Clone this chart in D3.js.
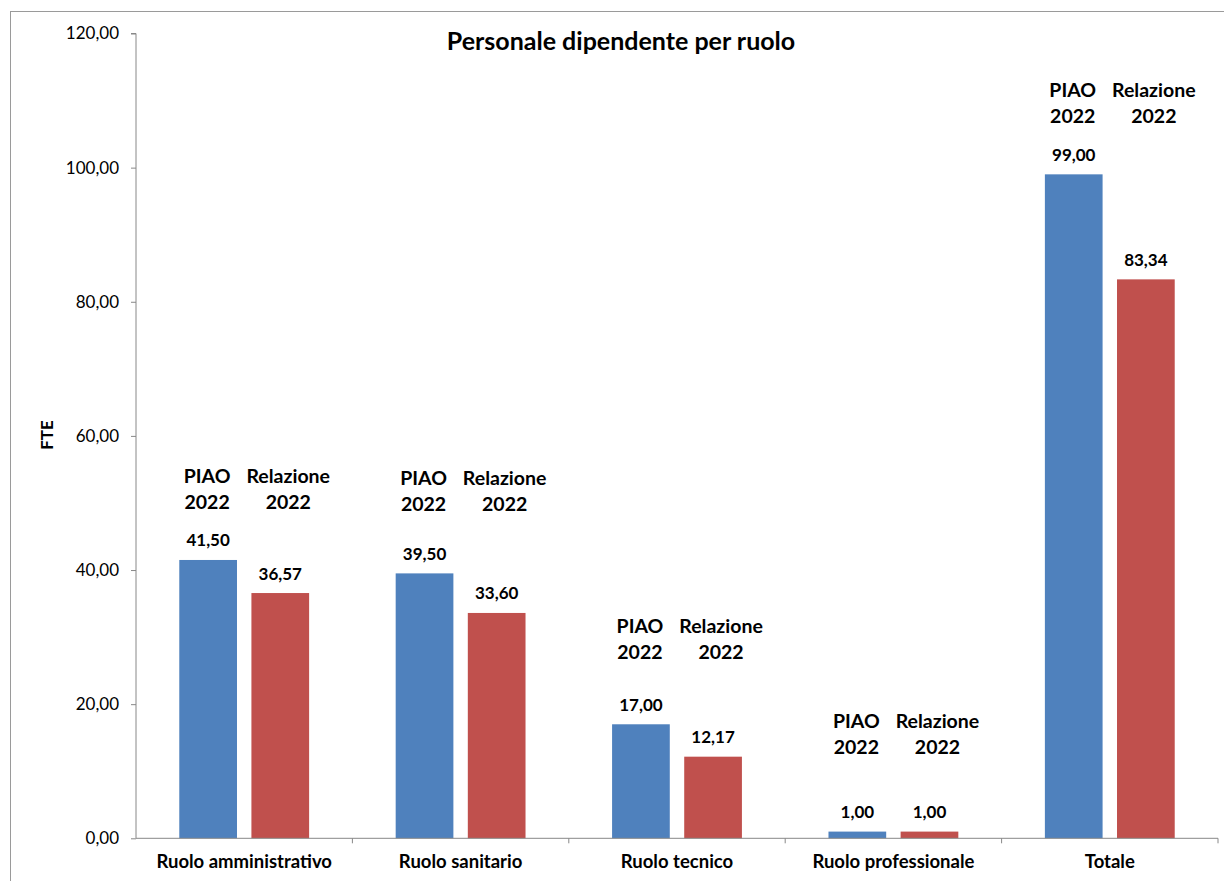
<!DOCTYPE html>
<html>
<head>
<meta charset="utf-8">
<script src="https://cdn.jsdelivr.net/npm/d3@7"></script>
<style>
  html, body { margin: 0; padding: 0; background: #fff; }
  svg { display: block; font-family: Lato, "Open Sans", sans-serif; }
</style>
</head>
<body>
<svg id="chart" width="1224" height="881"></svg>
<script>
// ---- data ----
const categories = ["Ruolo amministrativo", "Ruolo sanitario", "Ruolo tecnico", "Ruolo professionale", "Totale"];
const seriesNames = ["PIAO 2022", "Relazione 2022"];
const piao2022 = [41.50, 39.50, 17.00, 1.00, 99.00];
const relazione2022 = [36.57, 33.60, 12.17, 1.00, 83.34];
const yTicks = [0, 20, 40, 60, 80, 100, 120];
const titleText = "Personale dipendente per ruolo";
const yAxisTitle = "FTE";

// ---- layout / style ----
const colors = ["#4F81BD", "#C0504D"];
const plot = { left: 136, right: 1218, top: 33.5, bottom: 838.3 };
const nameGap = [52, 63, 66, 79, 52];   // distance of series-name labels above tallest bar
const nameShift = [-1, 8];              // horizontal nudge of series-name labels

const svg = d3.select("#chart");
const fmt = v => d3.format(".2f")(v).replace(".", ",");

// frame
svg.append("rect").attr("x", 10.5).attr("y", 11.5).attr("width", 1300).attr("height", 1000)
  .attr("fill", "none").attr("stroke", "#9a9a9a").attr("stroke-width", 1);

const y = d3.scaleLinear().domain([0, 120]).range([plot.bottom, plot.top]);
const x0 = d3.scaleBand().domain(categories).range([plot.left, plot.right]).paddingInner(0).paddingOuter(0);
const x1 = d3.scaleBand().domain(seriesNames).range([0, x0.bandwidth()]).paddingInner(0.2).paddingOuter(0.6);

const values = [piao2022, relazione2022];
const rows = categories.map((c, i) => ({ cat: c, i, vals: values.map((arr, s) => ({ s, name: seriesNames[s], v: arr[i] })) }));

// y axis
const yAxis = d3.axisLeft(y).tickValues(yTicks).tickFormat(fmt).tickSize(5).tickPadding(12);
const gy = svg.append("g").attr("transform", `translate(${plot.left},0)`).call(yAxis);
gy.select(".domain").attr("stroke", "#888").attr("d", `M-5,${plot.top}H0V${plot.bottom}`);
gy.selectAll(".tick line").attr("stroke", "#888");
gy.selectAll(".tick text").attr("font-size", 17).attr("fill", "#000").attr("font-family", "Lato");

// bars
const groups = svg.append("g").selectAll("g").data(rows).join("g")
  .attr("transform", d => `translate(${x0(d.cat)},0)`);
groups.selectAll("rect").data(d => d.vals).join("rect")
  .attr("x", d => x1(d.name))
  .attr("width", x1.bandwidth())
  .attr("y", d => y(d.v))
  .attr("height", d => y(0) - y(d.v))
  .attr("fill", d => colors[d.s]);

// value labels
groups.selectAll("text.val").data(d => d.vals).join("text").attr("class", "val")
  .attr("x", d => x1(d.name) + x1.bandwidth() / 2)
  .attr("y", d => y(d.v) - 13.5)
  .attr("text-anchor", "middle").attr("font-weight", "bold").attr("font-size", 17)
  .text(d => fmt(d.v));

// series name labels (two lines)
groups.each(function(d) {
  const g = d3.select(this);
  const topY = y(d3.max(d.vals, v => v.v));
  d.vals.forEach(v => {
    const parts = v.name.split(" ");
    const t = g.append("text")
      .attr("x", x1(v.name) + x1.bandwidth() / 2 + nameShift[v.s])
      .attr("y", topY - nameGap[d.i] - 25)
      .attr("text-anchor", "middle").attr("font-weight", "bold").attr("font-size", 19.5);
    parts.forEach((p, k) => {
      t.append("tspan").attr("x", x1(v.name) + x1.bandwidth() / 2 + nameShift[v.s])
        .attr("dy", k === 0 ? 0 : 26).text(p);
    });
  });
});

// x axis
const xAxis = d3.axisBottom(x0).tickSize(0).tickPadding(17);
const gx = svg.append("g").attr("transform", `translate(0,${plot.bottom})`).call(xAxis);
gx.select(".domain").attr("stroke", "#888").attr("d", `M${plot.left},0H${plot.right}V5`);
gx.selectAll(".tick text").attr("font-size", 18.5).attr("font-weight", "bold").attr("fill", "#000").attr("font-family", "Lato");
const boundaries = categories.map(c => x0(c)).concat([plot.right]);
gx.selectAll("line.bound").data(boundaries.slice(1, -1)).join("line").attr("class", "bound")
  .attr("x1", d => d).attr("x2", d => d).attr("y1", 0).attr("y2", 5).attr("stroke", "#888");

// title
svg.append("text").attr("x", 621).attr("y", 50).attr("text-anchor", "middle")
  .attr("font-weight", "bold").attr("font-size", 25).text(titleText);

// y axis title
svg.append("text").attr("transform", "translate(53,435) rotate(-90)").attr("text-anchor", "middle")
  .attr("font-weight", "bold").attr("font-size", 17).text(yAxisTitle);
</script>
</body>
</html>
